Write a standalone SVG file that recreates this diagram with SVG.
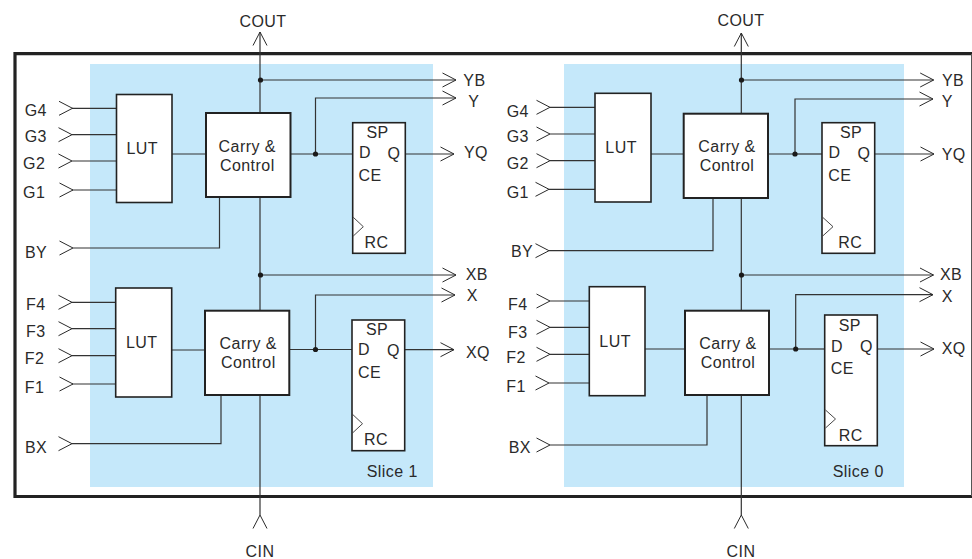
<svg xmlns="http://www.w3.org/2000/svg" width="972" height="559" viewBox="0 0 972 559">
<style>
text{font-family:"Liberation Sans",Arial,sans-serif;font-size:16px;fill:#2a2a2a;letter-spacing:.45px}
.m{text-anchor:middle}
.w{fill:#fff;stroke:#222;stroke-width:1.6}
.w2{fill:#fff;stroke:#222;stroke-width:2}
.c{fill:none;stroke:#333;stroke-width:1.2}
.a{marker-end:url(#ah)}
.s{fill:none;stroke:none;marker-end:url(#ah)}
.t{fill:none;stroke:#333;stroke-width:.9}
.b{fill:#c5e8fa}
.d{fill:#1a1a1a}
</style>
<defs>
<marker id="ah" markerUnits="userSpaceOnUse" markerWidth="18" markerHeight="18" refX="15" refY="9" orient="auto" overflow="visible">
<path d="M1.5 2 L15 9 L1.5 16" fill="none" stroke="#2a2a2a" stroke-width="1"/>
</marker>
</defs>
<g id="slice-backgrounds"><rect class="b" x="90" y="64" width="343" height="423"/><rect class="b" x="564" y="64" width="340" height="423"/></g>
<g id="frame" fill="none" stroke="#222"><path d="M972 53.7H15V496.5H972" stroke-width="3.2"/><path d="M971.5 54V496" stroke-width="1" stroke="#555"/></g>
<g id="connectors">
<path class="c a" d="M260 197V32"/><path class="c" d="M260 197V515"/>
<path class="c a" d="M260 80H456"/><path class="c a" d="M260 275H456"/>
<path class="c a" d="M290 154H315.5V98H456"/><path class="c a" d="M405 154H454"/><path class="c" d="M315 154H353"/>
<path class="c a" d="M289 349.5H315.5V295H455"/><path class="c a" d="M405 349.7H454"/><path class="c" d="M315 349.5H352"/>
<path class="c" d="M172 154H206M172 350H205"/>
<path class="c" d="M72 108.3H117M72 134.7H117M72 161H117M72 190H117M72 302.3H116M72 328.7H116M72 355.7H116M72 384H116"/>
<path class="c" d="M73 248H219.5V197M72 443.7H221V395"/>
<path class="s" d="M60 108.3H72.5"/><path class="s" d="M60 134.7H72"/><path class="s" d="M60 161H72"/><path class="s" d="M60 190H73"/><path class="s" d="M60 248H73"/>
<path class="s" d="M60 302.3H72"/><path class="s" d="M60 328.7H72"/><path class="s" d="M60 355.7H72"/><path class="s" d="M60 384H73"/><path class="s" d="M60 443.7H72"/>
<path class="s" d="M260 530V515"/>

<path class="c a" d="M741.3 198V33"/><path class="c" d="M741.3 198V515"/>
<path class="c a" d="M741.3 80H933.7"/><path class="c a" d="M741.3 275H933.5"/>
<path class="c a" d="M768 154H795V99H933"/><path class="c a" d="M874 154H934"/><path class="c" d="M795 154H822"/>
<path class="c a" d="M769 349H795.7V294.7H933"/><path class="c a" d="M877 349H934"/><path class="c" d="M795 349H825"/>
<path class="c" d="M651 154H684M645 349H685"/>
<path class="c" d="M550 107.3H595M550 134H595M550 160.7H595M549 189.3H595M550 301H590M550 327.3H590M550 354.3H590M549 383H590"/>
<path class="c" d="M549 250.7H713V198M550 445H707V395"/>
<path class="s" d="M537 107.3H550"/><path class="s" d="M537 134H550"/><path class="s" d="M537 160.7H550"/><path class="s" d="M536 189.3H549"/><path class="s" d="M536 250.7H549"/>
<path class="s" d="M537 301H550"/><path class="s" d="M537 327.3H550"/><path class="s" d="M537 354.3H550"/><path class="s" d="M536 383H549"/><path class="s" d="M537 445H550"/>
<path class="s" d="M741.3 530V515"/>
<g class="d"><circle cx="260.5" cy="80" r="2.6"/><circle cx="260.5" cy="275" r="2.6"/><circle cx="315.5" cy="154" r="2.6"/><circle cx="315.5" cy="349.5" r="2.6"/><circle cx="741.5" cy="80" r="2.6"/><circle cx="741.5" cy="275" r="2.6"/><circle cx="795" cy="154" r="2.6"/><circle cx="795.7" cy="349" r="2.6"/></g>
</g>

<g id="lut-s1-g"><rect class="w" x="116.5" y="94.5" width="55.5" height="108"/><text x="126.5" y="154.3">LUT</text></g>
<g id="carry-s1-top"><rect class="w2" x="206" y="113" width="84.5" height="84"/><text class="m" x="247.3" y="151.7">Carry &amp;</text><text class="m" x="247.3" y="170.7">Control</text></g>
<g id="ff-s1-y"><rect class="w" x="352.7" y="122.7" width="52.6" height="130.6"/><path class="t" d="M353.3 217.3L363.3 226.7L353.3 236"/><text x="366.5" y="138">SP</text><text x="359" y="158.3">D</text><text x="387.5" y="159">Q</text><text x="358.5" y="181">CE</text><text x="364.5" y="248">RC</text></g>
<g id="lut-s1-f"><rect class="w" x="115.7" y="288" width="56" height="109"/><text x="126" y="348">LUT</text></g>
<g id="carry-s1-bottom"><rect class="w2" x="205" y="310.7" width="84.3" height="84.3"/><text class="m" x="248.3" y="349">Carry &amp;</text><text class="m" x="248.3" y="367.7">Control</text></g>
<g id="ff-s1-x"><rect class="w" x="352" y="320" width="52.7" height="130.7"/><path class="t" d="M352.5 414.3L362.5 423.7L352.5 433"/><text x="366" y="335.3">SP</text><text x="358" y="355.3">D</text><text x="387" y="355.8">Q</text><text x="358" y="378">CE</text><text x="364" y="445.3">RC</text></g>

<g id="lut-s0-g"><rect class="w" x="595" y="93.3" width="56" height="108.7"/><text x="605.3" y="153.3">LUT</text></g>
<g id="carry-s0-top"><rect class="w2" x="683.7" y="113.7" width="84.3" height="84.3"/><text class="m" x="727" y="151.7">Carry &amp;</text><text class="m" x="727" y="170.7">Control</text></g>
<g id="ff-s0-y"><rect class="w" x="822" y="122.7" width="52.7" height="130.6"/><path class="t" d="M822.7 217.3L833 226.7L822.7 236"/><text x="840" y="138">SP</text><text x="828.5" y="158">D</text><text x="857.5" y="159">Q</text><text x="828.3" y="181">CE</text><text x="838.3" y="248">RC</text></g>
<g id="lut-s0-f"><rect class="w" x="589.3" y="286.7" width="55.7" height="109"/><text x="599.3" y="347.3">LUT</text></g>
<g id="carry-s0-bottom"><rect class="w2" x="685" y="310.7" width="84" height="84.3"/><text class="m" x="728" y="349">Carry &amp;</text><text class="m" x="728" y="367.7">Control</text></g>
<g id="ff-s0-x"><rect class="w" x="824.7" y="315" width="52.6" height="130.7"/><path class="t" d="M825.5 410L835.5 419L825.5 428"/><text x="838.7" y="331">SP</text><text x="831" y="351.7">D</text><text x="860" y="351.7">Q</text><text x="830.7" y="374.3">CE</text><text x="838.7" y="441">RC</text></g>

<g id="labels-s1">
<text class="m" x="263" y="27">COUT</text><text class="m" x="260" y="556.5">CIN</text>
<text x="24.7" y="116">G4</text><text x="24.7" y="142.3">G3</text><text x="23" y="169.3">G2</text><text x="23" y="198">G1</text><text x="25" y="258">BY</text>
<text x="26" y="310">F4</text><text x="26" y="336.7">F3</text><text x="24.7" y="363.7">F2</text><text x="24.7" y="393">F1</text><text x="25" y="453">BX</text>
<text x="463.3" y="86">YB</text><text x="468.3" y="106.7">Y</text><text x="464" y="158">YQ</text><text x="465.7" y="279.5">XB</text><text x="466.7" y="301">X</text><text x="466" y="358">XQ</text>
<text x="366.7" y="477.3">Slice 1</text>
</g>
<g id="labels-s0">
<text class="m" x="741" y="26">COUT</text><text class="m" x="741" y="556.5">CIN</text>
<text x="506.7" y="116.7">G4</text><text x="506.7" y="142.3">G3</text><text x="506.7" y="169.3">G2</text><text x="506.7" y="198">G1</text><text x="511" y="256.7">BY</text>
<text x="508" y="310">F4</text><text x="508" y="337.7">F3</text><text x="506.3" y="363">F2</text><text x="506.3" y="391.7">F1</text><text x="508.7" y="453">BX</text>
<text x="942" y="86">YB</text><text x="941.7" y="106.7">Y</text><text x="941.7" y="160">YQ</text><text x="940" y="279.5">XB</text><text x="941.7" y="301.7">X</text><text x="941.7" y="353.7">XQ</text>
<text x="832.7" y="477.3">Slice 0</text>
</g>
</svg>
